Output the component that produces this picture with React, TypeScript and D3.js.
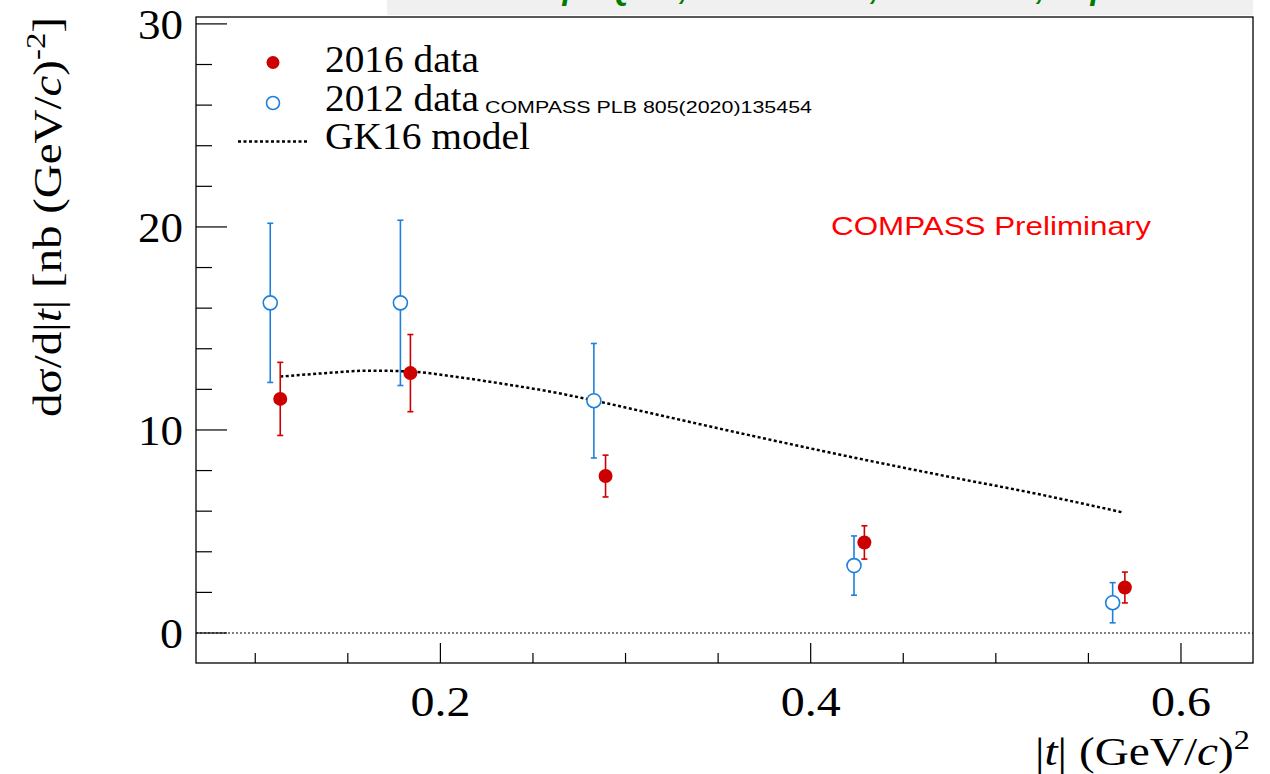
import React from "react";
import * as d3 from "d3";

// 2016 data (filled red)
const t2016 = [0.1135, 0.1838, 0.2892, 0.4290, 0.5697];
const v2016 = [11.53, 12.80, 7.73, 4.46, 2.24];
const e2016 = [1.80, 1.90, 1.03, 0.82, 0.76];
// 2012 data (open blue), COMPASS PLB 805(2020)135454
const t2012 = [0.1081, 0.1784, 0.2829, 0.4234, 0.5631];
const v2012 = [16.26, 16.26, 11.44, 3.32, 1.49];
const e2012 = [3.92, 4.07, 2.82, 1.46, 0.99];
// GK16 model curve
const modelT = [0.1135, 0.135, 0.162, 0.184, 0.205, 0.234, 0.261, 0.283, 0.310, 0.362, 0.416, 0.470, 0.524, 0.569];
const modelV = [12.63, 12.78, 12.92, 12.88, 12.66, 12.27, 11.86, 11.45, 10.90, 9.84, 8.78, 7.78, 6.82, 5.93];
// axes
const xMajor = [0.2, 0.4, 0.6];
const xMajorLabels = ["0.2", "0.4", "0.6"];
const xMinor = [0.1, 0.15, 0.25, 0.3, 0.35, 0.45, 0.5, 0.55];
const yMajor = [0, 10, 20, 30];
const yMajorLabels = ["0", "10", "20", "30"];
const yMinor = [2, 4, 6, 8, 12, 14, 16, 18, 22, 24, 26, 28];
// banner segments (only their lower edge is visible in the reference)
const bannerText = ["π⁰ on p", "Q²=2,", "ν = 8.5 GeV,", "x = 0.09,", "p"];
const bannerEnd = [582, 688, 879, 1045, 1110];

const W = 1270;
const H = 774;
const FL = 196, FR = 1253, FT = 17, FB = 663;

const RED = "#cc0000";
const BLUE = "#1f7fdc";
const SERIF = "'Liberation Serif', 'Times New Roman', serif";
const SANS = "'Liberation Sans', Arial, sans-serif";

export default function App() {
  const x = d3.scaleLinear().domain([0.068, 0.6389]).range([FL, FR]);
  const y = d3.scaleLinear().domain([-1.478, 30.34]).range([FB, FT]);
  const line = d3
    .line<number>()
    .x((_, i) => x(modelT[i]))
    .y((d) => y(d))
    .curve(d3.curveMonotoneX);

  const capW = 3;

  return (
    <svg
      width={W}
      height={H}
      style={{ position: "absolute", left: 0, top: 0, background: "#fff" }}
    >
      {/* banner (cut off at top) */}
      <rect x={387} y={0} width={866} height={15} fill="#f0f0f0" />
      <g fill="#007a00" fontFamily={SANS} fontWeight="bold" fontStyle="italic" fontSize={32}>
        {bannerText.map((s, i) => (
          <text key={"bn" + i} x={bannerEnd[i]} y={-1} textAnchor="end">
            {s}
          </text>
        ))}
      </g>

      {/* frame */}
      <rect x={FL} y={FT} width={FR - FL} height={FB - FT} fill="none" stroke="#000" strokeWidth={1.3} />

      {/* zero line */}
      <line x1={FL} x2={FR} y1={y(0)} y2={y(0)} stroke="#000" strokeWidth={1} strokeDasharray="2,2" />

      {/* y ticks */}
      {yMajor.map((v) => (
        <line key={"ym" + v} x1={FL} x2={FL + 31} y1={y(v)} y2={y(v)} stroke="#000" strokeWidth={1.2} />
      ))}
      {yMinor.map((v) => (
        <line key={"yn" + v} x1={FL} x2={FL + 16} y1={y(v)} y2={y(v)} stroke="#000" strokeWidth={1.2} />
      ))}
      {yMajor.map((v, i) => (
        <text
          key={"yl" + v}
          x={183}
          y={y(v) + 15}
          textAnchor="end"
          fontFamily={SERIF}
          fontSize={43}
          textLength={yMajorLabels[i].length === 1 ? 23 : 45}
          lengthAdjust="spacingAndGlyphs"
        >
          {yMajorLabels[i]}
        </text>
      ))}

      {/* x ticks */}
      {xMajor.map((v) => (
        <line key={"xm" + v} x1={x(v)} x2={x(v)} y1={FB} y2={FB - 20} stroke="#000" strokeWidth={1.2} />
      ))}
      {xMinor.map((v) => (
        <line key={"xn" + v} x1={x(v)} x2={x(v)} y1={FB} y2={FB - 10} stroke="#000" strokeWidth={1.2} />
      ))}
      {xMajor.map((v, i) => (
        <text
          key={"xl" + v}
          x={x(v)}
          y={716}
          textAnchor="middle"
          fontFamily={SERIF}
          fontSize={42}
          textLength={60}
          lengthAdjust="spacingAndGlyphs"
        >
          {xMajorLabels[i]}
        </text>
      ))}

      {/* axis titles */}
      <text
        x={1250}
        y={765}
        textAnchor="end"
        fontFamily={SERIF}
        fontSize={41}
        textLength={215}
        lengthAdjust="spacingAndGlyphs"
      >
        |<tspan fontStyle="italic">t</tspan>| (GeV/<tspan fontStyle="italic">c</tspan>)
        <tspan fontSize={28} dy={-16}>2</tspan>
      </text>
      <text
        transform="translate(61,17) rotate(-90)"
        x={0}
        y={0}
        textAnchor="end"
        fontFamily={SERIF}
        fontSize={40}
        textLength={400}
        lengthAdjust="spacingAndGlyphs"
      >
        dσ/d|<tspan fontStyle="italic">t</tspan>| [nb (GeV/<tspan fontStyle="italic">c</tspan>)
        <tspan fontSize={28} dy={-16}>-2</tspan>
        <tspan dy={16}>]</tspan>
      </text>

      {/* model */}
      <path
        d={line(modelV) || ""}
        fill="none"
        stroke="#000"
        strokeWidth={2.5}
        strokeDasharray="3,2.5"
      />

      {/* 2012 data */}
      {t2012.map((t, i) => {
        const cx = x(t), cy = y(v2012[i]);
        const yt = y(v2012[i] + e2012[i]), yb = y(v2012[i] - e2012[i]);
        return (
          <g key={"b" + i} stroke={BLUE} strokeWidth={1.6}>
            <line x1={cx} x2={cx} y1={yt} y2={yb} />
            <line x1={cx - capW} x2={cx + capW} y1={yt} y2={yt} />
            <line x1={cx - capW} x2={cx + capW} y1={yb} y2={yb} />
            <circle cx={cx} cy={cy} r={7} fill="#fff" />
          </g>
        );
      })}

      {/* 2016 data */}
      {t2016.map((t, i) => {
        const cx = x(t), cy = y(v2016[i]);
        const yt = y(v2016[i] + e2016[i]), yb = y(v2016[i] - e2016[i]);
        return (
          <g key={"r" + i} stroke={RED} strokeWidth={1.6}>
            <line x1={cx} x2={cx} y1={yt} y2={yb} />
            <line x1={cx - capW} x2={cx + capW} y1={yt} y2={yt} />
            <line x1={cx - capW} x2={cx + capW} y1={yb} y2={yb} />
            <circle cx={cx} cy={cy} r={7} fill={RED} stroke="none" />
          </g>
        );
      })}

      {/* legend */}
      <circle cx={273} cy={62.5} r={6.5} fill={RED} />
      <circle cx={273} cy={103} r={6.5} fill="#fff" stroke={BLUE} strokeWidth={1.6} />
      <line x1={238} x2={307} y1={141.5} y2={141.5} stroke="#000" strokeWidth={2.5} strokeDasharray="3,2.5" />
      <g fontFamily={SERIF} fontSize={38}>
        <text x={325} y={72} textLength={154} lengthAdjust="spacingAndGlyphs">2016 data</text>
        <text x={325} y={111} textLength={154} lengthAdjust="spacingAndGlyphs">2012 data</text>
        <text x={325} y={149} textLength={205} lengthAdjust="spacingAndGlyphs">GK16 model</text>
      </g>
      <text
        x={485}
        y={113}
        fontFamily={SANS}
        fontSize={17}
        textLength={327}
        lengthAdjust="spacingAndGlyphs"
      >
        COMPASS PLB 805(2020)135454
      </text>

      <text
        x={831}
        y={235}
        fill="#ff0000"
        fontFamily={SANS}
        fontSize={26}
        textLength={320}
        lengthAdjust="spacingAndGlyphs"
      >
        COMPASS Preliminary
      </text>
    </svg>
  );
}
